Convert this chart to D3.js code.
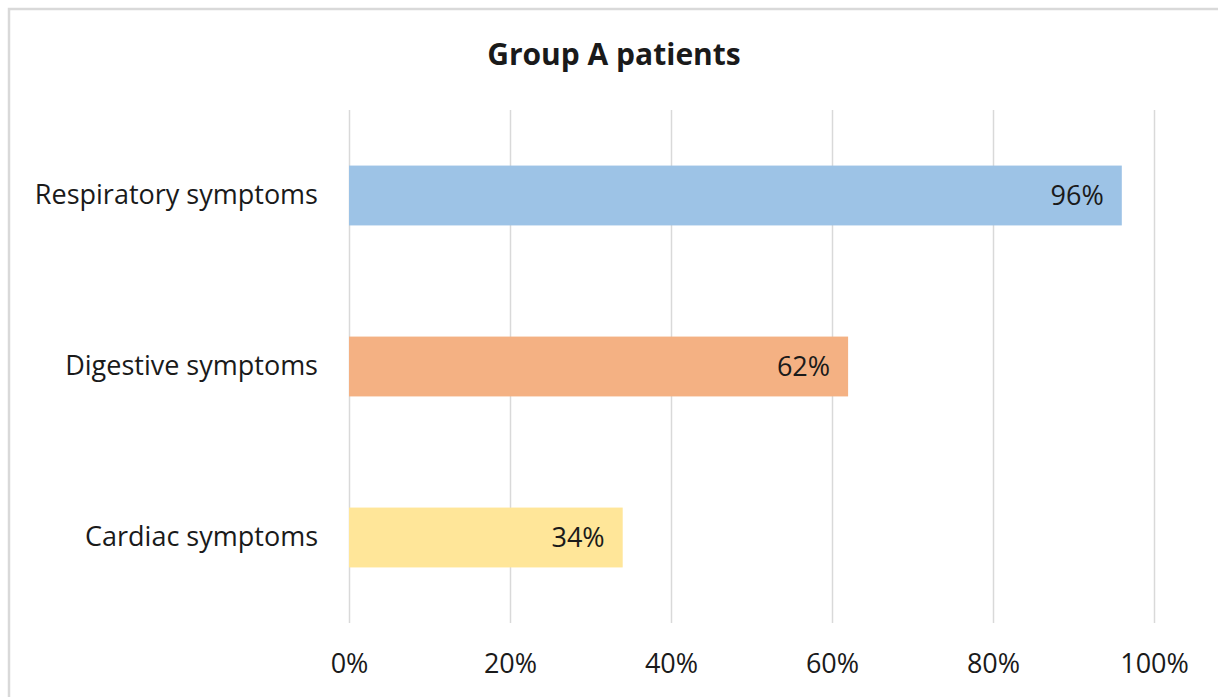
<!DOCTYPE html>
<html>
<head>
<meta charset="utf-8">
<script src="https://cdn.jsdelivr.net/npm/d3@7"></script>
<style>
  html, body { margin: 0; padding: 0; background: #fff; }
  svg { display: block; }
  text { font-family: "Open Sans", Lato, sans-serif; fill: #1a1a1a; }
</style>
</head>
<body>
<svg id="chart" width="1218" height="697"></svg>
<script>
// Share of Group A patients presenting each symptom type
const categories = ["Respiratory symptoms", "Digestive symptoms", "Cardiac symptoms"];
const values = [0.96, 0.62, 0.34];
const barColors = ["#9DC3E6", "#F4B183", "#FFE699"];
const tickValues = [0, 0.2, 0.4, 0.6, 0.8, 1.0];
const title = "Group A patients";

const svg = d3.select("#chart");
const W = 1218, H = 697;
const labelSize = "27px";

// outer chart frame (continues past the right and bottom edges)
svg.append("rect")
  .attr("x", 9).attr("y", 9)
  .attr("width", W + 20).attr("height", H + 20)
  .attr("fill", "#fff")
  .attr("stroke", "#d9d9d9").attr("stroke-width", 2.5);

const plot = { left: 349, right: 1154, top: 110, bottom: 623 };

const x = d3.scaleLinear().domain([0, 1]).range([plot.left, plot.right]);
const y = d3.scaleBand().domain(categories)
  .range([plot.top, plot.bottom])
  .paddingInner(0.65).paddingOuter(0.325);

// vertical gridlines
svg.append("g").selectAll("line").data(tickValues).join("line")
  .attr("x1", d => Math.round(x(d)) + 0.5).attr("x2", d => Math.round(x(d)) + 0.5)
  .attr("y1", plot.top).attr("y2", plot.bottom)
  .attr("stroke", "#d9d9d9").attr("stroke-width", 1.5);

// bars
svg.append("g").selectAll("rect").data(categories).join("rect")
  .attr("x", x(0))
  .attr("y", d => y(d))
  .attr("width", (d, i) => x(values[i]) - x(0))
  .attr("height", y.bandwidth())
  .attr("fill", (d, i) => barColors[i]);

// value labels inside the bar ends
svg.append("g").selectAll("text").data(categories).join("text")
  .attr("x", (d, i) => x(values[i]) - 18)
  .attr("y", d => y(d) + y.bandwidth() / 2)
  .attr("dy", "0.36em")
  .attr("text-anchor", "end")
  .style("font-size", labelSize)
  .text((d, i) => d3.format(".0%")(values[i]));

// category axis
const yAxis = svg.append("g")
  .attr("transform", `translate(${plot.left},0)`)
  .call(d3.axisLeft(y).tickSize(0).tickPadding(31));
yAxis.select(".domain").remove();
yAxis.selectAll("text").style("font-size", labelSize).attr("fill", "#1a1a1a");

// value axis
const xAxis = svg.append("g")
  .attr("transform", `translate(0,${plot.bottom})`)
  .call(d3.axisBottom(x).tickValues(tickValues).tickFormat(d3.format(".0%")).tickSize(0).tickPadding(31));
xAxis.select(".domain").remove();
xAxis.selectAll("text").style("font-size", labelSize).attr("fill", "#1a1a1a");

// title
svg.append("text")
  .attr("x", 614).attr("y", 65)
  .attr("text-anchor", "middle")
  .style("font-size", "30px").style("font-weight", "bold")
  .text(title);
</script>
</body>
</html>
